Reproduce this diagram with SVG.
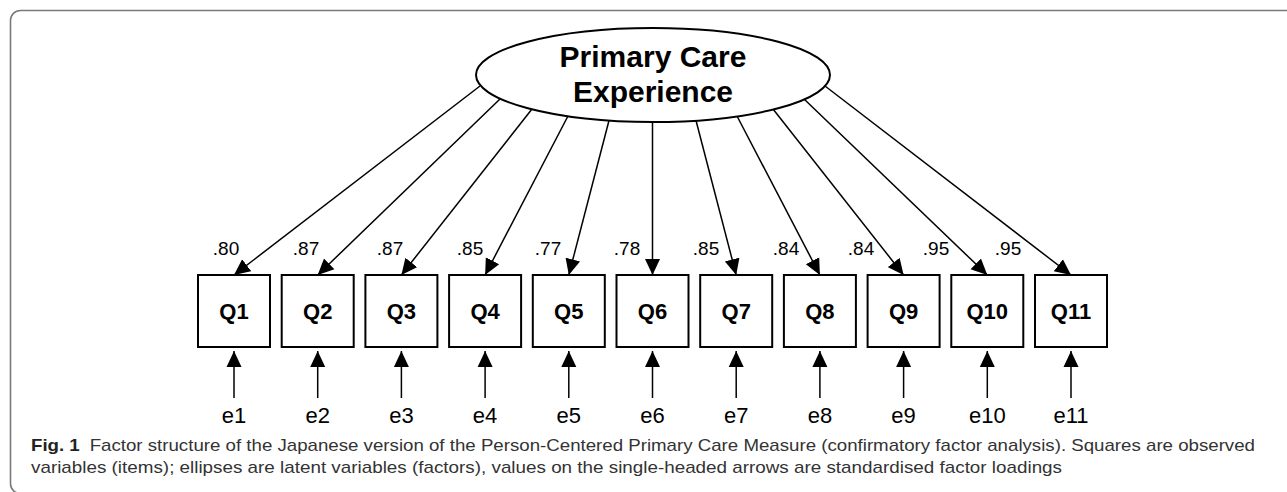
<svg xmlns="http://www.w3.org/2000/svg" width="1287" height="492" viewBox="0 0 1287 492">
<style>
.frame{fill:none;stroke:#7a7a7a;stroke-width:1.6}
.lat{fill:#fff;stroke:#000;stroke-width:2}
.obs{fill:#fff;stroke:#000;stroke-width:2}
.con{stroke:#000;stroke-width:1.5;fill:none;marker-end:url(#ah)}
.latt{font-family:"Liberation Sans",Arial,sans-serif;font-weight:bold;font-size:30px;text-anchor:middle;fill:#000}
.obst{font-family:"Liberation Sans",Arial,sans-serif;font-weight:bold;font-size:22px;text-anchor:middle;fill:#000}
.errt{font-family:"Liberation Sans",Arial,sans-serif;font-size:22px;text-anchor:middle;fill:#000}
.lod{font-family:"Liberation Sans",Arial,sans-serif;font-size:19px;text-anchor:middle;fill:#000}
.cap{font-family:"Liberation Sans","Noto Sans",sans-serif;font-size:17px;fill:#333}
</style>
<defs>
<marker id="ah" markerUnits="userSpaceOnUse" markerWidth="16" markerHeight="16" viewBox="0 0 16 16" refX="16" refY="8" orient="auto">
<path d="M0,0.5 L16,8 L0,15.5 Z" fill="#000"/>
</marker>
</defs>
<rect class="frame" x="10.5" y="10.5" width="1300" height="483" rx="10" ry="10"/>
<g id="connectors">
<line class="con" x1="480" y1="86" x2="234" y2="275"/>
<line class="con" x1="500" y1="99" x2="317.7" y2="275"/>
<line class="con" x1="532" y1="109" x2="401.4" y2="275"/>
<line class="con" x1="568" y1="116" x2="485.1" y2="275"/>
<line class="con" x1="609" y1="120.5" x2="568.8" y2="275"/>
<line class="con" x1="652.5" y1="122" x2="652.5" y2="275"/>
<line class="con" x1="696" y1="120.5" x2="736.2" y2="275"/>
<line class="con" x1="737" y1="116" x2="819.9" y2="275"/>
<line class="con" x1="773" y1="109" x2="903.6" y2="275"/>
<line class="con" x1="804" y1="99" x2="987.3" y2="275"/>
<line class="con" x1="825" y1="86" x2="1071" y2="275"/>
<line class="con" x1="234" y1="398" x2="234" y2="351"/>
<line class="con" x1="317.7" y1="398" x2="317.7" y2="351"/>
<line class="con" x1="401.4" y1="398" x2="401.4" y2="351"/>
<line class="con" x1="485.1" y1="398" x2="485.1" y2="351"/>
<line class="con" x1="568.8" y1="398" x2="568.8" y2="351"/>
<line class="con" x1="652.5" y1="398" x2="652.5" y2="351"/>
<line class="con" x1="736.2" y1="398" x2="736.2" y2="351"/>
<line class="con" x1="819.9" y1="398" x2="819.9" y2="351"/>
<line class="con" x1="903.6" y1="398" x2="903.6" y2="351"/>
<line class="con" x1="987.3" y1="398" x2="987.3" y2="351"/>
<line class="con" x1="1071" y1="398" x2="1071" y2="351"/>
<text class="lod" x="226" y="255">.80</text>
<text class="lod" x="306" y="255">.87</text>
<text class="lod" x="390" y="255">.87</text>
<text class="lod" x="470" y="255">.85</text>
<text class="lod" x="548" y="255">.77</text>
<text class="lod" x="627" y="255">.78</text>
<text class="lod" x="706" y="255">.85</text>
<text class="lod" x="786" y="255">.84</text>
<text class="lod" x="861" y="255">.84</text>
<text class="lod" x="936" y="255">.95</text>
<text class="lod" x="1008" y="255">.95</text>
</g>
<g id="latent">
<ellipse class="lat" cx="653" cy="75" rx="177" ry="47"/>
<text class="latt" x="653" y="67">Primary Care</text>
<text class="latt" x="653" y="102">Experience</text>
</g>
<g id="Q1"><rect class="obs" x="198" y="275" width="72" height="72"/><text class="obst" x="234" y="319">Q1</text></g>
<g id="Q2"><rect class="obs" x="281.7" y="275" width="72" height="72"/><text class="obst" x="317.7" y="319">Q2</text></g>
<g id="Q3"><rect class="obs" x="365.4" y="275" width="72" height="72"/><text class="obst" x="401.4" y="319">Q3</text></g>
<g id="Q4"><rect class="obs" x="449.1" y="275" width="72" height="72"/><text class="obst" x="485.1" y="319">Q4</text></g>
<g id="Q5"><rect class="obs" x="532.8" y="275" width="72" height="72"/><text class="obst" x="568.8" y="319">Q5</text></g>
<g id="Q6"><rect class="obs" x="616.5" y="275" width="72" height="72"/><text class="obst" x="652.5" y="319">Q6</text></g>
<g id="Q7"><rect class="obs" x="700.2" y="275" width="72" height="72"/><text class="obst" x="736.2" y="319">Q7</text></g>
<g id="Q8"><rect class="obs" x="783.9" y="275" width="72" height="72"/><text class="obst" x="819.9" y="319">Q8</text></g>
<g id="Q9"><rect class="obs" x="867.6" y="275" width="72" height="72"/><text class="obst" x="903.6" y="319">Q9</text></g>
<g id="Q10"><rect class="obs" x="951.3" y="275" width="72" height="72"/><text class="obst" x="987.3" y="319">Q10</text></g>
<g id="Q11"><rect class="obs" x="1035" y="275" width="72" height="72"/><text class="obst" x="1071" y="319">Q11</text></g>
<g id="e1"><text class="errt" x="234" y="423">e1</text></g>
<g id="e2"><text class="errt" x="317.7" y="423">e2</text></g>
<g id="e3"><text class="errt" x="401.4" y="423">e3</text></g>
<g id="e4"><text class="errt" x="485.1" y="423">e4</text></g>
<g id="e5"><text class="errt" x="568.8" y="423">e5</text></g>
<g id="e6"><text class="errt" x="652.5" y="423">e6</text></g>
<g id="e7"><text class="errt" x="736.2" y="423">e7</text></g>
<g id="e8"><text class="errt" x="819.9" y="423">e8</text></g>
<g id="e9"><text class="errt" x="903.6" y="423">e9</text></g>
<g id="e10"><text class="errt" x="987.3" y="423">e10</text></g>
<g id="e11"><text class="errt" x="1071" y="423">e11</text></g>
<g id="caption">
<text class="cap" x="31" y="451" textLength="1224" lengthAdjust="spacingAndGlyphs"><tspan font-weight="bold" fill="#222">Fig. 1</tspan><tspan dx="9">Factor structure of the Japanese version of the Person-Centered Primary Care Measure (confirmatory factor analysis). Squares are observed</tspan></text>
<text class="cap" x="31" y="473" textLength="1031" lengthAdjust="spacingAndGlyphs">variables (items); ellipses are latent variables (factors), values on the single-headed arrows are standardised factor loadings</text>
</g>
</svg>
